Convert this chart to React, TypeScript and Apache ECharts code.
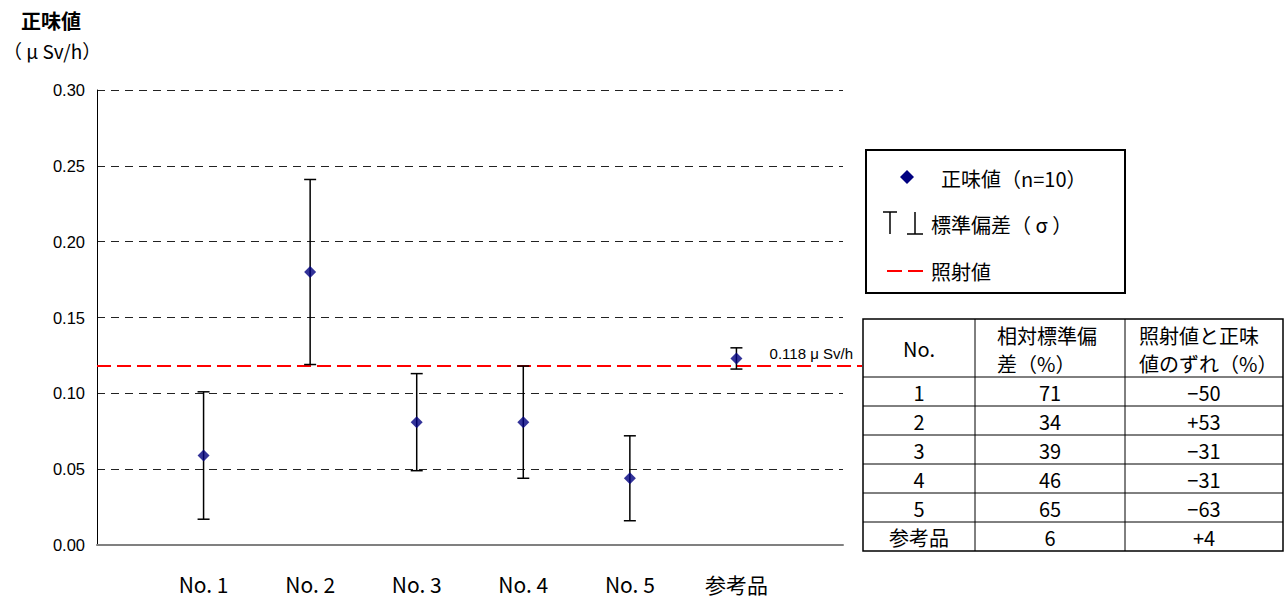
import React, { useEffect, useRef } from "react";
import * as echarts from "echarts";

// Sample labels and measured values (µSv/h)
const categories = ["No. 1", "No. 2", "No. 3", "No. 4", "No. 5", "参考品"];
const netValues = [0.059, 0.180, 0.081, 0.081, 0.044, 0.123];
const stdDevs = [0.042, 0.061, 0.032, 0.037, 0.028, 0.007];
const irradiationValue = 0.118;
const yTicks = [0, 0.05, 0.1, 0.15, 0.2, 0.25, 0.3];

// Summary table
const tableNo = ["1", "2", "3", "4", "5", "参考品"];
const tableRsd = ["71", "34", "39", "46", "65", "6"];
const tableDev = ["−50", "+53", "−31", "−31", "−63", "+4"];

const CJK = '"Noto Sans CJK JP", "Noto Sans", sans-serif';
const LATIN = '"Liberation Sans", Arial, sans-serif';

function buildTable(): any[] {
  const x0 = 863, x1 = 975, x2 = 1125, x3 = 1283;
  const top = 319, headBottom = 377, rowH = 29;
  const els: any[] = [];
  const line = (ax: number, ay: number, bx: number, by: number, w = 1) => ({
    type: "line",
    shape: { x1: ax, y1: ay, x2: bx, y2: by },
    style: { stroke: "#000", lineWidth: w },
  });
  const bottom = headBottom + rowH * tableNo.length;
  els.push({
    type: "rect",
    shape: { x: x0, y: top, width: x3 - x0, height: bottom - top },
    style: { fill: "#fff", stroke: "#000", lineWidth: 1.5 },
  });
  els.push(line(x1, top, x1, bottom));
  els.push(line(x2, top, x2, bottom));
  els.push(line(x0, headBottom, x3, headBottom));
  for (let i = 1; i < tableNo.length; i++) {
    const y = headBottom + rowH * i;
    els.push(line(x0, y, x3, y));
  }
  const txt = (t: string, x: number, y: number, align = "center") => ({
    type: "text",
    x,
    y,
    style: { text: t, font: `20px ${CJK}`, fill: "#000", align, verticalAlign: "middle" },
  });
  els.push(txt("No.", (x0 + x1) / 2, (top + headBottom) / 2));
  els.push(txt("相対標準偏", 997, 335, "left"));
  els.push(txt("差（%）", 997, 363, "left"));
  els.push(txt("照射値と正味", 1139, 335, "left"));
  els.push(txt("値のずれ（%）", 1139, 363, "left"));
  tableNo.forEach((n, i) => {
    const cy = headBottom + rowH * i + rowH / 2 + 1;
    els.push(txt(n, (x0 + x1) / 2, cy));
    els.push(txt(tableRsd[i], (x1 + x2) / 2, cy));
    els.push(txt(tableDev[i], (x2 + x3) / 2, cy));
  });
  return els;
}

function buildLegend(): any[] {
  return [
    {
      type: "rect",
      shape: { x: 866, y: 150, width: 259, height: 143 },
      style: { fill: "#fff", stroke: "#000", lineWidth: 2 },
    },
    {
      type: "polygon",
      shape: { points: [[907, 170], [914, 177], [907, 184], [900, 177]] },
      style: { fill: "#000080" },
    },
    {
      type: "text",
      x: 941,
      y: 178,
      style: { text: "正味値（n=10）", font: `20px ${CJK}`, fill: "#000", verticalAlign: "middle" },
    },
    // ⊤ ⊥ glyphs for the error-bar key
    { type: "line", shape: { x1: 883, y1: 212, x2: 897, y2: 212 }, style: { stroke: "#000", lineWidth: 1.5 } },
    { type: "line", shape: { x1: 890, y1: 212, x2: 890, y2: 234 }, style: { stroke: "#000", lineWidth: 1.5 } },
    { type: "line", shape: { x1: 915, y1: 212, x2: 915, y2: 234 }, style: { stroke: "#000", lineWidth: 1.5 } },
    { type: "line", shape: { x1: 907, y1: 234, x2: 923, y2: 234 }, style: { stroke: "#000", lineWidth: 1.5 } },
    {
      type: "text",
      x: 931,
      y: 224,
      style: { text: "標準偏差（ σ ）", font: `20px ${CJK}`, fill: "#000", verticalAlign: "middle" },
    },
    {
      type: "line",
      shape: { x1: 887, y1: 271, x2: 926, y2: 271 },
      style: { stroke: "#ff0000", lineWidth: 2, lineDash: [15, 6] },
    },
    {
      type: "text",
      x: 931,
      y: 271,
      style: { text: "照射値", font: `20px ${CJK}`, fill: "#000", verticalAlign: "middle" },
    },
  ];
}

export default function App() {
  const ref = useRef<HTMLDivElement>(null);

  useEffect(() => {
    if (!ref.current) return;
    const chart = echarts.init(ref.current, null, { renderer: "svg" });

    const option: any = {
      animation: false,
      backgroundColor: "#fff",
      textStyle: { fontFamily: CJK },
      grid: { left: 97, right: 444, top: 90, bottom: 56, containLabel: false },
      xAxis: {
        type: "value",
        min: 0,
        max: 7,
        interval: 1,
        axisLine: { show: true, onZero: false, lineStyle: { color: "#808080", width: 2 } },
        axisTick: { show: false },
        splitLine: { show: false },
        axisLabel: {
          margin: 28,
          fontFamily: CJK,
          fontSize: 21,
          color: "#000",
          showMinLabel: true,
          showMaxLabel: true,
          formatter: (v: number) => (v >= 1 && v <= categories.length ? categories[v - 1] : ""),
        },
      },
      yAxis: {
        type: "value",
        min: yTicks[0],
        max: yTicks[yTicks.length - 1],
        interval: 0.05,
        axisLine: { show: true, lineStyle: { color: "#000", width: 1 } },
        axisTick: { show: false },
        splitLine: { show: true, lineStyle: { color: "#222", width: 1, type: [8, 6] } },
        axisLabel: {
          margin: 12,
          fontFamily: LATIN,
          fontSize: 16.5,
          color: "#000",
          formatter: (v: number) => v.toFixed(2),
        },
      },
      series: [
        {
          // reference (irradiation) level line with its label
          type: "custom",
          clip: false,
          silent: true,
          z: 3,
          data: [[irradiationValue]],
          renderItem: (params: any, api: any) => {
            const v = api.value(0);
            const p0 = api.coord([0, v]);
            const p1 = api.coord([7, v]);
            return {
              type: "group",
              children: [
                {
                  type: "line",
                  shape: { x1: p0[0], y1: p0[1], x2: p1[0] + 19, y2: p1[1] },
                  style: { stroke: "#ff0000", lineWidth: 2, lineDash: [14, 6] },
                },
                {
                  type: "text",
                  x: p1[0] + 10,
                  y: p1[1] - 13,
                  style: {
                    text: "0.118 μ Sv/h",
                    font: `15px ${LATIN}`,
                    fill: "#000",
                    align: "right",
                    verticalAlign: "middle",
                  },
                },
              ],
            };
          },
        },
        {
          // ±σ error bars
          type: "custom",
          z: 4,
          data: netValues.map((m, i) => [i + 1, m, stdDevs[i]]),
          renderItem: (params: any, api: any) => {
            const x = api.value(0);
            const m = api.value(1);
            const s = api.value(2);
            const top = api.coord([x, m + s]);
            const bot = api.coord([x, m - s]);
            const hw = 6;
            const st = { stroke: "#000", lineWidth: 1.5 };
            return {
              type: "group",
              children: [
                { type: "line", shape: { x1: top[0], y1: top[1], x2: bot[0], y2: bot[1] }, style: st },
                { type: "line", shape: { x1: top[0] - hw, y1: top[1], x2: top[0] + hw, y2: top[1] }, style: st },
                { type: "line", shape: { x1: bot[0] - hw, y1: bot[1], x2: bot[0] + hw, y2: bot[1] }, style: st },
              ],
            };
          },
        },
        {
          type: "scatter",
          z: 5,
          symbol: "diamond",
          symbolSize: 12,
          itemStyle: { color: "#000080" },
          data: netValues.map((m, i) => [i + 1, m]),
        },
      ],
      graphic: [
        {
          type: "text",
          x: 21,
          y: 20,
          style: { text: "正味値", font: `bold 20px ${CJK}`, fill: "#000", verticalAlign: "middle" },
        },
        {
          type: "text",
          x: 3,
          y: 50,
          style: { text: "（ μ Sv/h）", font: `19px ${CJK}`, fill: "#000", verticalAlign: "middle" },
        },
        ...buildLegend(),
        ...buildTable(),
      ],
    };

    chart.setOption(option);
    return () => chart.dispose();
  }, []);

  return (
    <div
      ref={ref}
      style={{ position: "fixed", left: 0, top: 0, width: 1287, height: 601, background: "#fff" }}
    />
  );
}
